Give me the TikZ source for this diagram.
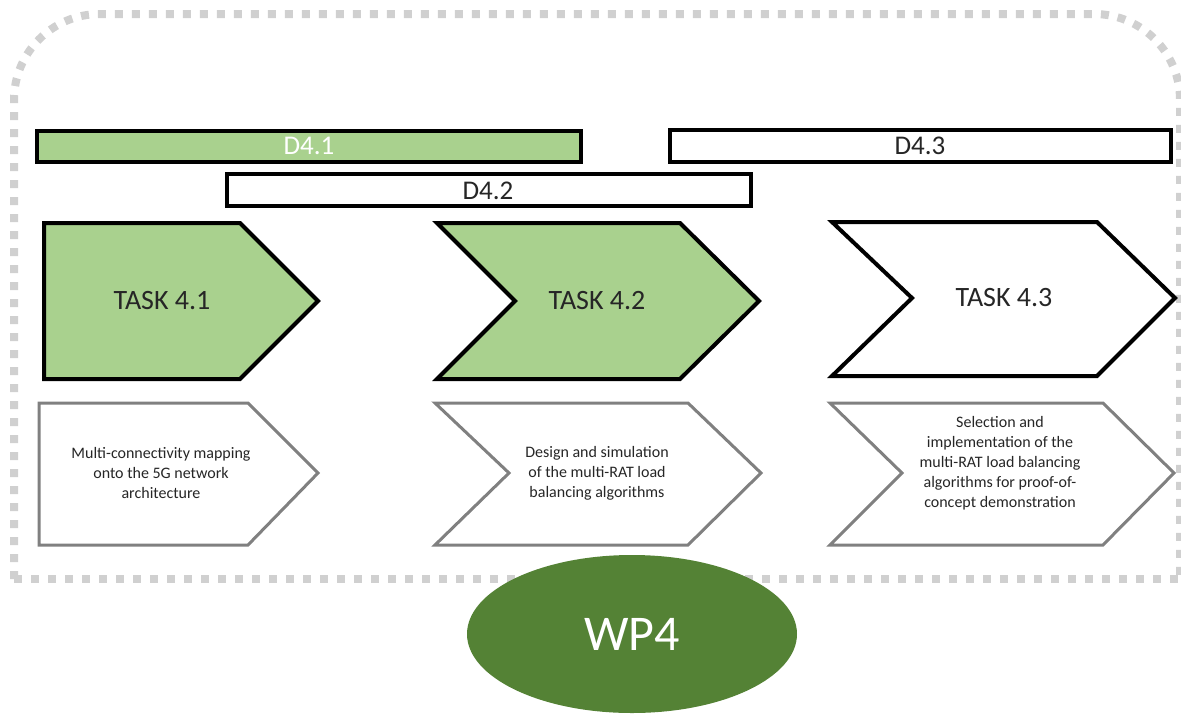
\documentclass[tikz,border=0pt]{standalone}
\usepackage{fontspec}
\setmainfont{Carlito}
\usetikzlibrary{shapes.geometric}
\definecolor{lightgreen}{HTML}{A9D18E}
\definecolor{darkgreen}{HTML}{548235}
\definecolor{dotgray}{HTML}{D0D0D0}
\definecolor{boxgray}{HTML}{808080}
\tikzset{
  frame/.style={draw=dotgray, line width=8pt, dash pattern=on 8pt off 9pt},
  dbar/.style={draw=black, line width=3.5pt},
  taskshape/.style={draw=black, line width=4pt, line join=miter},
  descshape/.style={draw=boxgray, line width=3pt, fill=white, line join=miter},
  tasklabel/.style={font=\fontsize{28}{34}\selectfont, text=black!85},
  dlabel/.style={font=\fontsize{27}{32}\selectfont},
  desclabel/.style={font=\fontsize{16}{20}\selectfont, align=center, text=black!85},
}
\begin{document}
\begin{tikzpicture}[x=1pt, y=-1pt]
\useasboundingbox (0,0) rectangle (1181,713);
% dotted frame
\draw[frame, rounded corners=86pt] (14,579) -- (14,14) -- (1180,14) -- (1180,579);
\draw[frame] (14,579) -- (1180,579);
% deliverable bars
\draw[dbar, fill=lightgreen] (37,131) rectangle (581,162);
\node[dlabel, text=white] (d41) at (309,146) {D4.1};
\draw[dbar, fill=white] (227,174) rectangle (751,206);
\node[dlabel, text=black!85] (d42) at (488,191) {D4.2};
\draw[dbar, fill=white] (670,130) rectangle (1171,162);
\node[dlabel, text=black!85] (d43) at (920,146) {D4.3};
% tasks
\draw[taskshape, fill=lightgreen] (44,223) -- (240,223) -- (318,301) -- (240,379) -- (44,379) -- cycle;
\node[tasklabel] (t41) at (162,301) {TASK 4.1};
\draw[taskshape, fill=lightgreen] (437,223) -- (680,223) -- (759,301) -- (680,379) -- (437,379) -- (515,301) -- cycle;
\node[tasklabel] (t42) at (597,301) {TASK 4.2};
\draw[taskshape, fill=white] (832,222) -- (1097,222) -- (1175,298) -- (1097,376) -- (832,376) -- (912,298) -- cycle;
\node[tasklabel] (t43) at (1004,298) {TASK 4.3};
% descriptions
\draw[descshape] (39,403) -- (248,403) -- (318,473) -- (248,545) -- (39,545) -- cycle;
\node[desclabel] (s41) at (161,473) {Multi-connectivity mapping\\onto the 5G network\\architecture};
\draw[descshape] (435,403) -- (688,403) -- (761,473) -- (688,545) -- (435,545) -- (509,473) -- cycle;
\node[desclabel] (s42) at (597,473) {Design and simulation\\of the multi-RAT load\\balancing algorithms};
\draw[descshape] (830,403) -- (1103,403) -- (1174,473) -- (1103,545) -- (830,545) -- (902,473) -- cycle;
\node[desclabel] (s43) at (1000,463) {Selection and\\implementation of the\\multi-RAT load balancing\\algorithms for proof-of-\\concept demonstration};
% WP4
\node[ellipse, fill=darkgreen, minimum width=330pt, minimum height=158pt, inner sep=0pt, text=white, font=\fontsize{50}{60}\selectfont] (wp4) at (632,634) {WP4};
\end{tikzpicture}
\end{document}
